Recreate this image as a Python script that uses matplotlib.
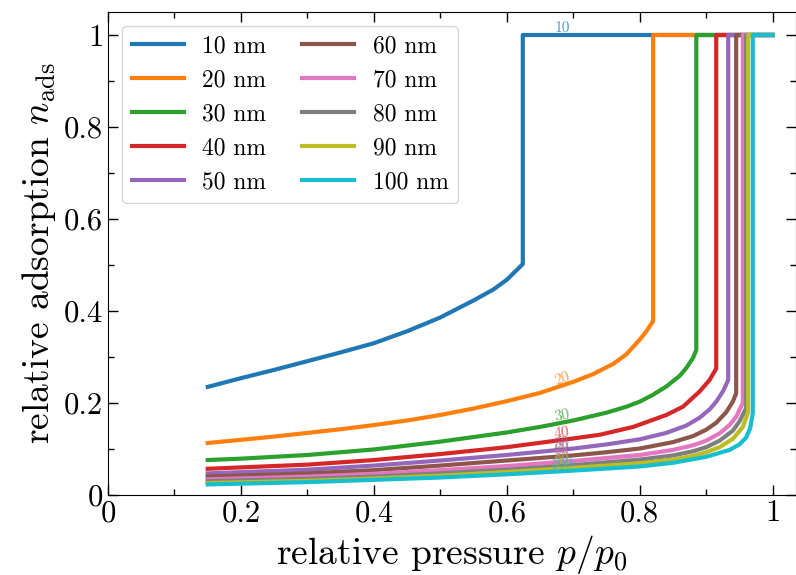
import numpy as np
import matplotlib
matplotlib.use("Agg")
import matplotlib.pyplot as plt
from matplotlib.ticker import MultipleLocator, FuncFormatter

plt.rcParams['font.family'] = 'serif'
plt.rcParams['font.serif'] = ['cmr10']
plt.rcParams['mathtext.fontset'] = 'cm'
plt.rcParams['axes.formatter.use_mathtext'] = True

# pore sizes (nm) and read-off isotherms: p/p0 -> n_ads (before the condensation jump)
sizes = [10, 20, 30, 40, 50, 60, 70, 80, 90, 100]

p10 = [0.15, 0.2, 0.25, 0.3, 0.35, 0.4, 0.45, 0.5, 0.55, 0.58, 0.6, 0.624]
n10 = [0.235, 0.254, 0.272, 0.291, 0.310, 0.330, 0.356, 0.386, 0.423, 0.447, 0.468, 0.502]

p20 = [0.15, 0.2, 0.25, 0.3, 0.35, 0.4, 0.45, 0.5, 0.55, 0.6, 0.65, 0.7, 0.73, 0.76, 0.78, 0.8, 0.81, 0.82]
n20 = [0.113, 0.120, 0.127, 0.135, 0.143, 0.152, 0.162, 0.174, 0.188, 0.204, 0.222, 0.246,
       0.263, 0.285, 0.306, 0.338, 0.356, 0.378]

p30 = [0.15, 0.2, 0.3, 0.4, 0.5, 0.6, 0.65, 0.7, 0.75, 0.78, 0.8, 0.82, 0.84, 0.86, 0.87, 0.88, 0.885]
n30 = [0.076, 0.079, 0.087, 0.099, 0.116, 0.136, 0.148, 0.162, 0.179, 0.192, 0.203, 0.218,
       0.236, 0.259, 0.276, 0.298, 0.315]

p40 = [0.15, 0.3, 0.4, 0.5, 0.6, 0.7, 0.74, 0.79, 0.84, 0.865, 0.89, 0.905, 0.915]
n40 = [0.057, 0.066, 0.076, 0.089, 0.104, 0.123, 0.131, 0.148, 0.174, 0.192, 0.225, 0.250, 0.275]

p50 = [0.15, 0.3, 0.4, 0.5, 0.6, 0.7, 0.75, 0.8, 0.84, 0.87, 0.89, 0.905, 0.915, 0.925, 0.933]
n50 = [0.047, 0.055, 0.064, 0.075, 0.087, 0.101, 0.110, 0.121, 0.135, 0.151, 0.168, 0.186,
       0.203, 0.225, 0.250]

p60 = [0.15, 0.3, 0.4, 0.5, 0.6, 0.7, 0.75, 0.8, 0.85, 0.88, 0.9, 0.915, 0.93, 0.94, 0.945]
n60 = [0.040, 0.047, 0.054, 0.064, 0.075, 0.086, 0.093, 0.101, 0.115, 0.128, 0.142, 0.157,
       0.180, 0.203, 0.221]

p70 = [0.15, 0.3, 0.4, 0.5, 0.6, 0.7, 0.8, 0.85, 0.88, 0.9, 0.92, 0.935, 0.945, 0.955]
n70 = [0.034, 0.040, 0.046, 0.054, 0.063, 0.074, 0.087, 0.098, 0.108, 0.118, 0.134, 0.152,
       0.170, 0.200]

p80 = [0.15, 0.3, 0.4, 0.5, 0.6, 0.7, 0.8, 0.85, 0.88, 0.9, 0.92, 0.94, 0.95, 0.96]
n80 = [0.030, 0.035, 0.040, 0.047, 0.055, 0.065, 0.077, 0.086, 0.095, 0.104, 0.118, 0.140,
       0.160, 0.189]

p90 = [0.15, 0.3, 0.4, 0.5, 0.6, 0.7, 0.8, 0.85, 0.88, 0.9, 0.92, 0.94, 0.955, 0.963]
n90 = [0.026, 0.031, 0.036, 0.042, 0.050, 0.059, 0.069, 0.077, 0.085, 0.093, 0.104, 0.122,
       0.148, 0.180]

p100 = [0.15, 0.3, 0.4, 0.5, 0.6, 0.7, 0.8, 0.85, 0.9, 0.935, 0.95, 0.96, 0.966, 0.97]
n100 = [0.023, 0.028, 0.033, 0.038, 0.045, 0.053, 0.062, 0.070, 0.083, 0.098, 0.110, 0.125,
        0.145, 0.178]

ps = [p10, p20, p30, p40, p50, p60, p70, p80, p90, p100]
ns = [n10, n20, n30, n40, n50, n60, n70, n80, n90, n100]

colors = ['#1f77b4', '#ff7f0e', '#2ca02c', '#d62728', '#9467bd',
          '#8c564b', '#e377c2', '#7f7f7f', '#bcbd22', '#17becf']

fig = plt.figure(figsize=(7.96, 5.75), dpi=100)
ax = fig.add_axes([108 / 796, 80 / 575, 688 / 796, 483 / 575])

lines = []
for size, p, n, c in zip(sizes, ps, ns, colors):
    # condensation: vertical jump to full pore, then flat until p/p0 = 1
    x = p + [p[-1], 1.0]
    y = n + [1.0, 1.0]
    ax.plot(x, y, color=c, lw=3, label=f'{size} nm')
    lines.append((x, y, c, size))

ax.set_xlim(0, 1.035)
ax.set_ylim(0, 1.05)

# inline labels along the curves
xl = 0.683
for x, y, c, size in lines:
    x = np.array(x)
    y = np.array(y)
    i = np.searchsorted(x, xl)
    if i >= len(x) - 2:
        yl = 1.0
        ang = 0
    else:
        yl = y[i - 1] + (y[i] - y[i - 1]) * (xl - x[i - 1]) / (x[i] - x[i - 1])
        ang = np.degrees(np.arctan2(y[i] - y[i - 1], x[i] - x[i - 1]))
        ang = ax.transData.transform_angles(np.array([ang]),
                                            np.array([[xl, yl]]))[0]
    ax.text(xl, yl + 0.014, str(size), color=c, alpha=0.75, fontsize=11,
            ha='center', va='center', rotation=ang, rotation_mode='anchor')

ax.set_xlabel(r'relative pressure $p/p_0$', fontsize=27)
ax.set_ylabel(r'relative adsorption $n_{\rm ads}$', fontsize=27)

ax.xaxis.set_major_locator(MultipleLocator(0.2))
ax.xaxis.set_minor_locator(MultipleLocator(0.1))
ax.yaxis.set_major_locator(MultipleLocator(0.2))
ax.yaxis.set_minor_locator(MultipleLocator(0.1))
fmt = FuncFormatter(lambda v, pos: f'{v:g}')
ax.xaxis.set_major_formatter(fmt)
ax.yaxis.set_major_formatter(fmt)
ax.tick_params(which='both', direction='in', top=True, right=True, labelsize=22)
ax.tick_params(which='major', length=7, width=1)
ax.tick_params(which='minor', length=4, width=1)

ax.legend(loc='upper left', ncol=2, fontsize=17, handlelength=2.2,
          columnspacing=1.5, borderaxespad=0.6)

fig.savefig('out.png', dpi=100)
